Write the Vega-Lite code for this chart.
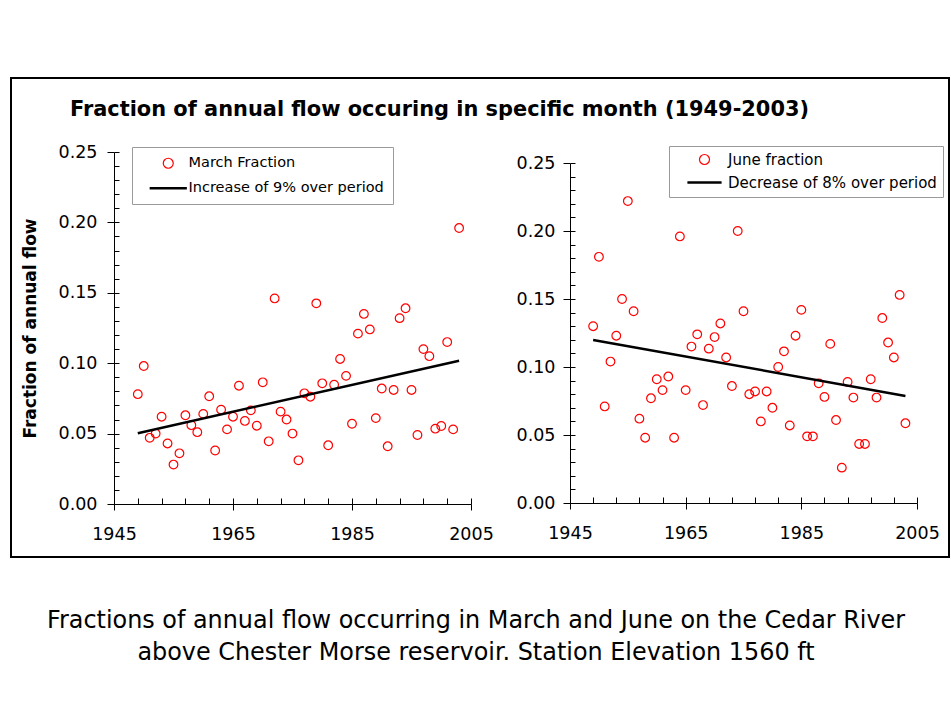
{
  "$schema": "https://vega.github.io/schema/vega-lite/v6.json",
  "background": "white",
  "padding": {"left": 10, "top": 77, "right": 0, "bottom": 10},
  "config": {
    "font": "DejaVu Sans",
    "axis": {"labelFont": "DejaVu Sans", "labelFontSize": 17.5, "labelColor": "black", "domainColor": "black", "tickColor": "black", "titleColor": "black", "titleFont": "DejaVu Sans", "grid": false, "labelFlush": false, "labelOverlap": false, "labelBound": false, "domainWidth": 1, "tickWidth": 1},
    "legend": {"labelFont": "DejaVu Sans", "labelColor": "black", "labelLimit": 0},
    "title": {"font": "DejaVu Sans", "color": "black"}
  },
  "title": {
    "text": ["Fractions of annual flow occurring in March and June on the Cedar River", "above Chester Morse reservoir. Station Elevation 1560 ft"],
    "orient": "bottom", "anchor": "middle", "fontSize": 23.9, "fontWeight": "normal", "lineHeight": 32, "offset": 51, "dx": -4
  },
  "datasets": {
    "march": [
      {"year": 1949, "value": 0.078, "series": "March Fraction"},
      {"year": 1950, "value": 0.098, "series": "March Fraction"},
      {"year": 1951, "value": 0.047, "series": "March Fraction"},
      {"year": 1952, "value": 0.050, "series": "March Fraction"},
      {"year": 1953, "value": 0.062, "series": "March Fraction"},
      {"year": 1954, "value": 0.043, "series": "March Fraction"},
      {"year": 1955, "value": 0.028, "series": "March Fraction"},
      {"year": 1956, "value": 0.036, "series": "March Fraction"},
      {"year": 1957, "value": 0.063, "series": "March Fraction"},
      {"year": 1958, "value": 0.056, "series": "March Fraction"},
      {"year": 1959, "value": 0.051, "series": "March Fraction"},
      {"year": 1960, "value": 0.064, "series": "March Fraction"},
      {"year": 1961, "value": 0.0765, "series": "March Fraction"},
      {"year": 1962, "value": 0.038, "series": "March Fraction"},
      {"year": 1963, "value": 0.067, "series": "March Fraction"},
      {"year": 1964, "value": 0.053, "series": "March Fraction"},
      {"year": 1965, "value": 0.062, "series": "March Fraction"},
      {"year": 1966, "value": 0.084, "series": "March Fraction"},
      {"year": 1967, "value": 0.059, "series": "March Fraction"},
      {"year": 1968, "value": 0.0665, "series": "March Fraction"},
      {"year": 1969, "value": 0.0556, "series": "March Fraction"},
      {"year": 1970, "value": 0.0864, "series": "March Fraction"},
      {"year": 1971, "value": 0.0445, "series": "March Fraction"},
      {"year": 1972, "value": 0.146, "series": "March Fraction"},
      {"year": 1973, "value": 0.0656, "series": "March Fraction"},
      {"year": 1974, "value": 0.060, "series": "March Fraction"},
      {"year": 1975, "value": 0.050, "series": "March Fraction"},
      {"year": 1976, "value": 0.031, "series": "March Fraction"},
      {"year": 1977, "value": 0.0786, "series": "March Fraction"},
      {"year": 1978, "value": 0.0762, "series": "March Fraction"},
      {"year": 1979, "value": 0.1425, "series": "March Fraction"},
      {"year": 1980, "value": 0.0857, "series": "March Fraction"},
      {"year": 1981, "value": 0.0417, "series": "March Fraction"},
      {"year": 1982, "value": 0.0847, "series": "March Fraction"},
      {"year": 1983, "value": 0.103, "series": "March Fraction"},
      {"year": 1984, "value": 0.091, "series": "March Fraction"},
      {"year": 1985, "value": 0.057, "series": "March Fraction"},
      {"year": 1986, "value": 0.121, "series": "March Fraction"},
      {"year": 1987, "value": 0.135, "series": "March Fraction"},
      {"year": 1988, "value": 0.124, "series": "March Fraction"},
      {"year": 1989, "value": 0.061, "series": "March Fraction"},
      {"year": 1990, "value": 0.082, "series": "March Fraction"},
      {"year": 1991, "value": 0.041, "series": "March Fraction"},
      {"year": 1992, "value": 0.081, "series": "March Fraction"},
      {"year": 1993, "value": 0.132, "series": "March Fraction"},
      {"year": 1994, "value": 0.139, "series": "March Fraction"},
      {"year": 1995, "value": 0.081, "series": "March Fraction"},
      {"year": 1996, "value": 0.049, "series": "March Fraction"},
      {"year": 1997, "value": 0.110, "series": "March Fraction"},
      {"year": 1998, "value": 0.105, "series": "March Fraction"},
      {"year": 1999, "value": 0.0535, "series": "March Fraction"},
      {"year": 2000, "value": 0.0554, "series": "March Fraction"},
      {"year": 2001, "value": 0.115, "series": "March Fraction"},
      {"year": 2002, "value": 0.053, "series": "March Fraction"},
      {"year": 2003, "value": 0.196, "series": "March Fraction"}
    ],
    "marchTrend": [
      {"year": 1949, "value": 0.0502, "series": "Increase of 9% over period"},
      {"year": 2003, "value": 0.1018, "series": "Increase of 9% over period"}
    ],
    "june": [
      {"year": 1949, "value": 0.130, "series": "June fraction"},
      {"year": 1950, "value": 0.181, "series": "June fraction"},
      {"year": 1951, "value": 0.071, "series": "June fraction"},
      {"year": 1952, "value": 0.104, "series": "June fraction"},
      {"year": 1953, "value": 0.123, "series": "June fraction"},
      {"year": 1954, "value": 0.150, "series": "June fraction"},
      {"year": 1955, "value": 0.222, "series": "June fraction"},
      {"year": 1956, "value": 0.141, "series": "June fraction"},
      {"year": 1957, "value": 0.062, "series": "June fraction"},
      {"year": 1958, "value": 0.048, "series": "June fraction"},
      {"year": 1959, "value": 0.077, "series": "June fraction"},
      {"year": 1960, "value": 0.091, "series": "June fraction"},
      {"year": 1961, "value": 0.083, "series": "June fraction"},
      {"year": 1962, "value": 0.093, "series": "June fraction"},
      {"year": 1963, "value": 0.048, "series": "June fraction"},
      {"year": 1964, "value": 0.196, "series": "June fraction"},
      {"year": 1965, "value": 0.083, "series": "June fraction"},
      {"year": 1966, "value": 0.115, "series": "June fraction"},
      {"year": 1967, "value": 0.124, "series": "June fraction"},
      {"year": 1968, "value": 0.072, "series": "June fraction"},
      {"year": 1969, "value": 0.1135, "series": "June fraction"},
      {"year": 1970, "value": 0.122, "series": "June fraction"},
      {"year": 1971, "value": 0.132, "series": "June fraction"},
      {"year": 1972, "value": 0.107, "series": "June fraction"},
      {"year": 1973, "value": 0.086, "series": "June fraction"},
      {"year": 1974, "value": 0.200, "series": "June fraction"},
      {"year": 1975, "value": 0.141, "series": "June fraction"},
      {"year": 1976, "value": 0.080, "series": "June fraction"},
      {"year": 1977, "value": 0.082, "series": "June fraction"},
      {"year": 1978, "value": 0.060, "series": "June fraction"},
      {"year": 1979, "value": 0.082, "series": "June fraction"},
      {"year": 1980, "value": 0.070, "series": "June fraction"},
      {"year": 1981, "value": 0.100, "series": "June fraction"},
      {"year": 1982, "value": 0.1115, "series": "June fraction"},
      {"year": 1983, "value": 0.057, "series": "June fraction"},
      {"year": 1984, "value": 0.123, "series": "June fraction"},
      {"year": 1985, "value": 0.142, "series": "June fraction"},
      {"year": 1986, "value": 0.049, "series": "June fraction"},
      {"year": 1987, "value": 0.049, "series": "June fraction"},
      {"year": 1988, "value": 0.088, "series": "June fraction"},
      {"year": 1989, "value": 0.078, "series": "June fraction"},
      {"year": 1990, "value": 0.117, "series": "June fraction"},
      {"year": 1991, "value": 0.061, "series": "June fraction"},
      {"year": 1992, "value": 0.026, "series": "June fraction"},
      {"year": 1993, "value": 0.089, "series": "June fraction"},
      {"year": 1994, "value": 0.0775, "series": "June fraction"},
      {"year": 1995, "value": 0.0434, "series": "June fraction"},
      {"year": 1996, "value": 0.0434, "series": "June fraction"},
      {"year": 1997, "value": 0.091, "series": "June fraction"},
      {"year": 1998, "value": 0.0775, "series": "June fraction"},
      {"year": 1999, "value": 0.136, "series": "June fraction"},
      {"year": 2000, "value": 0.118, "series": "June fraction"},
      {"year": 2001, "value": 0.107, "series": "June fraction"},
      {"year": 2002, "value": 0.153, "series": "June fraction"},
      {"year": 2003, "value": 0.0586, "series": "June fraction"}
    ],
    "juneTrend": [
      {"year": 1949, "value": 0.1199, "series": "Decrease of 8% over period"},
      {"year": 2003, "value": 0.0787, "series": "Decrease of 8% over period"}
    ]
  },
  "vconcat": [
    {
      "width": 938,
      "height": 479,
      "view": {"stroke": "black", "strokeWidth": 2, "fill": "white"},
      "title": {"text": "Fraction of annual flow occuring in specific month (1949-2003)", "anchor": "start", "frame": "group", "baseline": "alphabetic", "offset": -59, "dx": 59, "fontSize": 20.9, "fontWeight": "bold"},
      "layer": [
        {
          "layer": [
            {
              "data": {"name": "march"},
              "mark": {"type": "point", "filled": false, "size": 75, "strokeWidth": 1.2, "opacity": 1},
              "encoding": {
                "x": {"field": "year", "type": "quantitative", "scale": {"domain": [1945, 2005], "range": [103, 460], "nice": false, "zero": false},
                  "axis": {"orient": "bottom", "offset": -53, "values": [1945, 1965, 1985, 2005], "format": "d", "tickSize": 6, "labelPadding": 15, "title": null}},
                "y": {"field": "value", "type": "quantitative", "scale": {"domain": [0, 0.25], "range": [426, 74], "nice": false, "zero": true},
                  "axis": {"orient": "left", "offset": -103, "values": [0, 0.05, 0.1, 0.15, 0.2, 0.25], "format": ".2f", "tickSize": 7, "labelPadding": 10, "title": "Fraction of annual flow", "titleFontSize": 17, "titleFontWeight": "bold", "titlePadding": 19}},
                "color": {"field": "series", "type": "nominal",
                  "scale": {"domain": ["March Fraction", "Increase of 9% over period"], "range": ["#ff0000", "#000000"]},
                  "legend": {"title": null, "orient": "none", "legendX": 121, "legendY": 69, "padding": 9, "strokeColor": "#9a9a9a", "fillColor": "white", "labelFontSize": 14.5, "labelLimit": 0, "symbolSize": 100, "symbolStrokeWidth": 1.2, "symbolOpacity": 1, "symbolOffset": 20, "labelOffset": 13, "rowPadding": 9}},
                "shape": {"field": "series", "type": "nominal",
                  "scale": {"domain": ["March Fraction", "Increase of 9% over period"], "range": ["circle", "M-3.6,-0.13H3.6V0.13H-3.6Z"]},
                  "legend": {"title": null, "orient": "none", "legendX": 121, "legendY": 69, "padding": 9, "strokeColor": "#9a9a9a", "fillColor": "white", "labelFontSize": 14.5, "labelLimit": 0, "symbolSize": 100, "symbolStrokeWidth": 1.2, "symbolOpacity": 1, "symbolOffset": 20, "labelOffset": 13, "rowPadding": 9}}
              }
            },
            {
              "data": {"name": "marchTrend"},
              "mark": {"type": "line", "strokeWidth": 2.5},
              "encoding": {
                "x": {"field": "year", "type": "quantitative",
                  "axis": {"orient": "bottom", "offset": -53, "values": [1945, 1949, 1953, 1957, 1961, 1965, 1969, 1973, 1977, 1981, 1985, 1989, 1993, 1997, 2001, 2005], "tickSize": -6, "labels": false, "domain": false, "title": null}},
                "y": {"field": "value", "type": "quantitative",
                  "axis": {"orient": "left", "offset": -103, "values": [0, 0.01, 0.02, 0.03, 0.04, 0.05, 0.06, 0.07, 0.08, 0.09, 0.1, 0.11, 0.12, 0.13, 0.14, 0.15, 0.16, 0.17, 0.18, 0.19, 0.2, 0.21, 0.22, 0.23, 0.24, 0.25], "tickSize": -5, "labels": false, "domain": false, "title": null}},
                "color": {"field": "series", "type": "nominal"}
              }
            }
          ],
          "resolve": {"axis": {"x": "independent", "y": "independent"}}
        },
        {
          "layer": [
            {
              "data": {"name": "june"},
              "mark": {"type": "point", "filled": false, "size": 75, "strokeWidth": 1.2, "opacity": 1},
              "encoding": {
                "x": {"field": "year", "type": "quantitative", "scale": {"domain": [1945, 2005], "range": [559, 906], "nice": false, "zero": false},
                  "axis": {"orient": "bottom", "offset": -54, "values": [1945, 1965, 1985, 2005], "format": "d", "tickSize": 6, "labelPadding": 15, "title": null}},
                "y": {"field": "value", "type": "quantitative", "scale": {"domain": [0, 0.25], "range": [425, 85], "nice": false, "zero": true},
                  "axis": {"orient": "left", "offset": -559, "values": [0, 0.05, 0.1, 0.15, 0.2, 0.25], "format": ".2f", "tickSize": 7, "labelPadding": 8, "title": null}},
                "color": {"field": "series", "type": "nominal",
                  "scale": {"domain": ["June fraction", "Decrease of 8% over period"], "range": ["#ff0000", "#000000"]},
                  "legend": {"title": null, "orient": "none", "legendX": 658, "legendY": 68, "padding": 6, "strokeColor": "#9a9a9a", "fillColor": "white", "labelFontSize": 15, "labelLimit": 0, "symbolSize": 100, "symbolStrokeWidth": 1.2, "symbolOpacity": 1, "symbolOffset": 22, "labelOffset": 16, "rowPadding": 7}},
                "shape": {"field": "series", "type": "nominal",
                  "scale": {"domain": ["June fraction", "Decrease of 8% over period"], "range": ["circle", "M-3.3,-0.13H3.3V0.13H-3.3Z"]},
                  "legend": {"title": null, "orient": "none", "legendX": 658, "legendY": 68, "padding": 6, "strokeColor": "#9a9a9a", "fillColor": "white", "labelFontSize": 15, "labelLimit": 0, "symbolSize": 100, "symbolStrokeWidth": 1.2, "symbolOpacity": 1, "symbolOffset": 22, "labelOffset": 16, "rowPadding": 7}}
              }
            },
            {
              "data": {"name": "juneTrend"},
              "mark": {"type": "line", "strokeWidth": 2.5},
              "encoding": {
                "x": {"field": "year", "type": "quantitative",
                  "axis": {"orient": "bottom", "offset": -54, "values": [1945, 1949, 1953, 1957, 1961, 1965, 1969, 1973, 1977, 1981, 1985, 1989, 1993, 1997, 2001, 2005], "tickSize": -6, "labels": false, "domain": false, "title": null}},
                "y": {"field": "value", "type": "quantitative",
                  "axis": {"orient": "left", "offset": -559, "values": [0, 0.01, 0.02, 0.03, 0.04, 0.05, 0.06, 0.07, 0.08, 0.09, 0.1, 0.11, 0.12, 0.13, 0.14, 0.15, 0.16, 0.17, 0.18, 0.19, 0.2, 0.21, 0.22, 0.23, 0.24, 0.25], "tickSize": -5, "labels": false, "domain": false, "title": null}},
                "color": {"field": "series", "type": "nominal"}
              }
            }
          ],
          "resolve": {"axis": {"x": "independent", "y": "independent"}}
        }
      ],
      "resolve": {
        "scale": {"x": "independent", "y": "independent", "color": "independent", "shape": "independent"},
        "axis": {"x": "independent", "y": "independent"},
        "legend": {"color": "independent", "shape": "independent"}
      }
    }
  ]
}
